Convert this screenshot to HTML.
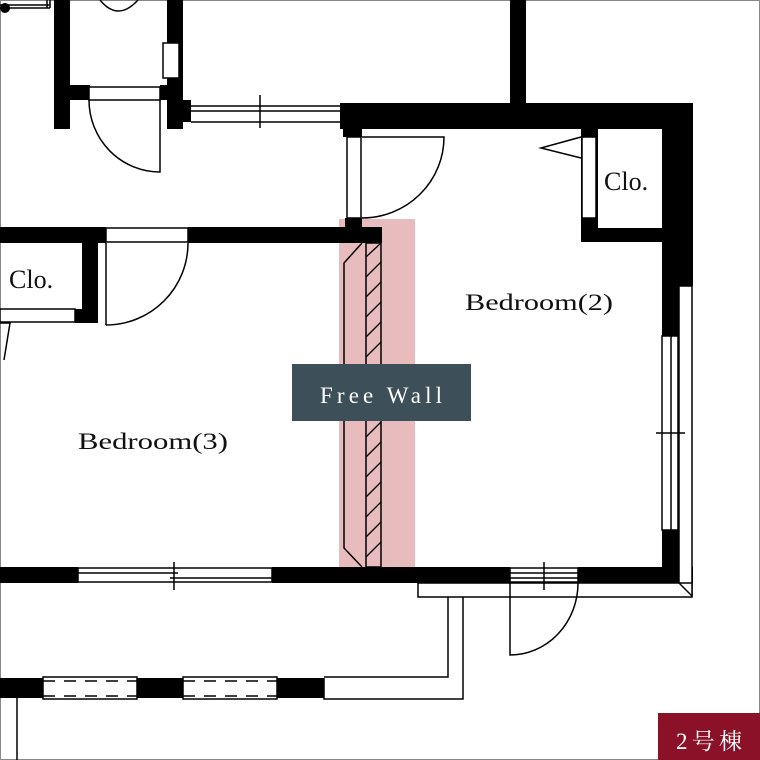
<!DOCTYPE html>
<html><head><meta charset="utf-8"><style>
html,body{margin:0;padding:0;background:#fff;width:760px;height:760px;overflow:hidden}
svg{display:block}
text{font-family:"Liberation Serif","Noto Serif CJK SC",serif}
</style></head><body>
<svg width="760" height="760" viewBox="0 0 760 760" xmlns="http://www.w3.org/2000/svg">
<rect x="0.5" y="0.5" width="759" height="759" fill="#fff" stroke="#888" stroke-width="1"/>
<rect x="339" y="219" width="76" height="348" fill="#e8bcbc"/>
<g stroke="#000" stroke-width="1.5" fill="none">
<line x1="0" y1="5" x2="50" y2="5"/><line x1="0" y1="8" x2="50" y2="8"/>
<line x1="47" y1="0" x2="47" y2="8"/><line x1="50" y1="0" x2="50" y2="8"/>
<path d="M100 0 Q118 22 138 0"/>
</g>
<circle cx="5" cy="8" r="5" fill="#000"/>
<g fill="#000">
<rect x="54" y="0" width="16" height="129"/>
<rect x="167" y="0" width="16" height="129"/>
<rect x="183" y="100" width="8" height="22"/>
<rect x="70" y="85" width="20" height="15"/>
<rect x="160" y="85" width="7" height="15"/>
<rect x="510" y="0" width="16" height="103"/>
<rect x="340" y="103" width="353" height="26"/>
<rect x="343" y="129" width="19" height="8"/>
<rect x="662" y="103" width="31" height="183"/>
<rect x="662" y="286" width="17" height="50"/>
<rect x="662" y="530" width="17" height="40"/>
<rect x="581" y="120" width="17" height="122"/>
<rect x="581" y="228" width="81" height="14"/>
<rect x="345" y="218" width="17" height="12"/>
<rect x="0" y="227" width="106" height="16"/>
<rect x="188" y="227" width="194" height="16"/>
<rect x="82" y="243" width="16" height="80"/>
<rect x="75" y="309" width="23" height="14"/>
<rect x="0" y="567" width="78" height="16"/>
<rect x="272" y="567" width="238" height="16"/>
<rect x="578" y="567" width="115" height="16"/>
<rect x="0" y="678" width="43" height="20"/>
<rect x="137" y="678" width="46" height="20"/>
<rect x="277" y="678" width="47" height="20"/>
</g>
<g stroke="#000" stroke-width="1.5" fill="#fff">
<rect x="89" y="87" width="71" height="13"/>
<rect x="163" y="43" width="16" height="35"/>
<rect x="347" y="137" width="14" height="81"/>
<rect x="582" y="137" width="14" height="81"/>
<rect x="106" y="228" width="82" height="14"/>
<rect x="0" y="309" width="75" height="13"/>
<rect x="679" y="286" width="13" height="310"/>
<rect x="662" y="336" width="16" height="194"/>
<rect x="78" y="568" width="194" height="14"/>
<rect x="510" y="568" width="68" height="14"/>
<rect x="418" y="583" width="274" height="14"/>
<rect x="43" y="677" width="94" height="22"/>
<rect x="183" y="677" width="94" height="22"/>
</g>
<g stroke="#000" stroke-width="1.5" fill="none">
<path d="M160 100 V172 A71 72 0 0 1 89 100"/>
<path d="M362 137 H444 A82 81 0 0 1 362 218"/>
<path d="M106 243 V325 M188 243 A82 82 0 0 1 106 325"/>
<path d="M510 583 V655 A68 72 0 0 0 578 583"/>
<path d="M581 137 L541 148 L581 158"/>
<path d="M0 323 L10 323 L4 360"/>
<path d="M191 106 H345 M191 111 H345 M191 122 H345 M260 95 V128"/>
<path d="M345 106 H425 M345 111 H425" stroke-dasharray="10 4"/>
<line x1="671" y1="336" x2="671" y2="530"/>
<line x1="656" y1="433" x2="685" y2="433"/>
<path d="M679 583 L692 596"/>
<line x1="78" y1="573" x2="178" y2="573"/><line x1="170" y1="578" x2="272" y2="578"/>
<line x1="174" y1="562" x2="174" y2="590"/>
<line x1="510" y1="573" x2="578" y2="573"/><line x1="510" y1="578" x2="578" y2="578"/>
<line x1="544" y1="562" x2="544" y2="590"/>
<path d="M448 597 V677 H324 M463 597 V699 H324 V678"/>
<path d="M43 681 H137 M43 696 H137 M183 681 H277 M183 696 H277" stroke-dasharray="12 9"/>
<line x1="17" y1="698" x2="17" y2="760"/>
<path d="M362 243 L344 263 V548 L362 567"/>
<rect x="366" y="243" width="15" height="324"/>
</g>
<g stroke="#000" stroke-width="1.3">
<line x1="366" y1="257" x2="381" y2="243"/><line x1="366" y1="277" x2="381" y2="262"/>
<line x1="366" y1="297" x2="381" y2="282"/><line x1="366" y1="317" x2="381" y2="302"/>
<line x1="366" y1="337" x2="381" y2="322"/><line x1="366" y1="357" x2="381" y2="342"/>
<line x1="366" y1="437" x2="381" y2="422"/><line x1="366" y1="457" x2="381" y2="442"/>
<line x1="366" y1="477" x2="381" y2="462"/><line x1="366" y1="497" x2="381" y2="482"/>
<line x1="366" y1="517" x2="381" y2="502"/><line x1="366" y1="537" x2="381" y2="522"/>
<line x1="366" y1="557" x2="381" y2="542"/>
</g>
<rect x="292" y="364" width="179" height="57" fill="#3d4f58"/>
<text x="320" y="403" font-size="23" fill="#fff" textLength="122" lengthAdjust="spacing">Free Wall</text>
<text x="465" y="310" font-size="23" fill="#111" textLength="148" lengthAdjust="spacingAndGlyphs">Bedroom(2)</text>
<text x="78" y="449" font-size="23" fill="#111" textLength="150" lengthAdjust="spacingAndGlyphs">Bedroom(3)</text>
<text x="604" y="190" font-size="26" fill="#111">Clo.</text>
<text x="9" y="288" font-size="26" fill="#111">Clo.</text>
<rect x="658" y="713" width="102" height="47" fill="#8b1128"/>
<text x="676" y="749" font-size="23" fill="#fff" textLength="66">2号棟</text>
</svg>
</body></html>
